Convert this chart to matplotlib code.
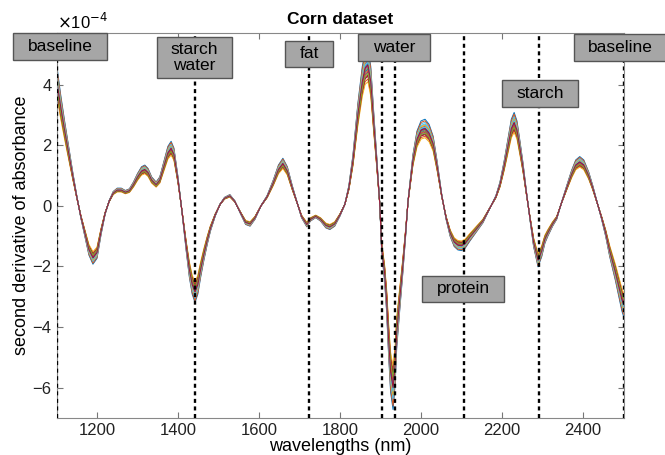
import numpy as np
import matplotlib
matplotlib.use('Agg')
import matplotlib.pyplot as plt
from matplotlib.patches import Rectangle

plt.rcParams['font.family'] = ['Liberation Sans', 'DejaVu Sans']

# mean second-derivative spectrum (x 1e-4)
wavelengths = [1100, 1110, 1120, 1130, 1140, 1150, 1160, 1170, 1180, 1190,
               1200, 1210, 1220, 1230, 1240, 1250, 1260, 1270, 1280, 1290,
               1300, 1310, 1318, 1326, 1335, 1346, 1355, 1365, 1375, 1383,
               1390, 1400, 1410, 1420, 1428, 1435, 1442, 1449, 1456, 1464,
               1472, 1480, 1492, 1504, 1515, 1528, 1540, 1555, 1567, 1578,
               1590, 1605, 1620, 1635, 1648, 1659, 1670, 1682, 1693, 1705,
               1718, 1727, 1740, 1752, 1765, 1775, 1787, 1800, 1812, 1822,
               1832, 1844, 1855, 1862, 1869, 1876, 1883, 1891, 1898, 1903,
               1910, 1915, 1920, 1925, 1931, 1936, 1940, 1948, 1955, 1962,
               1968, 1980, 1990, 2000, 2010, 2020, 2030, 2040, 2051, 2062,
               2072, 2082, 2091, 2100, 2109, 2120, 2135, 2153, 2171, 2185,
               2195, 2205, 2215, 2223, 2230, 2237, 2245, 2252, 2260, 2269,
               2278, 2289, 2298, 2306, 2313, 2325, 2335, 2347, 2360, 2372,
               2382, 2392, 2402, 2414, 2424, 2434, 2446, 2456, 2466, 2480,
               2496, 2500]
mean_spec = [4.2, 3.3, 2.5, 1.75, 1.0, 0.3, -0.35, -0.9, -1.45, -1.72,
             -1.55, -0.85, -0.25, 0.15, 0.42, 0.52, 0.52, 0.45, 0.5, 0.7,
             0.95, 1.15, 1.2, 1.1, 0.85, 0.7, 0.85, 1.3, 1.75, 1.9,
             1.7, 0.85, -0.2, -1.3, -2.1, -2.6, -2.85, -2.6, -2.1, -1.6,
             -1.15, -0.75, -0.3, 0.05, 0.25, 0.33, 0.15, -0.25, -0.55, -0.6,
             -0.4, 0.0, 0.3, 0.75, 1.2, 1.4, 1.15, 0.6, 0.15, -0.35,
             -0.62, -0.45, -0.35, -0.45, -0.65, -0.7, -0.6, -0.3, 0.05, 0.6,
             1.5, 3.0, 4.1, 4.55, 4.65, 4.1, 2.8, 1.4, 0.1, -1.4,
             -2.2, -3.1, -4.4, -5.5, -6.0, -5.3, -4.2, -3.0, -2.0, -0.9,
             0.15, 1.5, 2.2, 2.5, 2.55, 2.4, 2.05, 1.3, 0.35, -0.4,
             -0.9, -1.2, -1.3, -1.32, -1.25, -1.05, -0.8, -0.5, -0.05, 0.3,
             0.7, 1.3, 2.0, 2.55, 2.75, 2.5, 1.85, 1.25, 0.45, -0.4,
             -1.2, -1.8, -1.5, -1.1, -0.9, -0.6, -0.4, 0.1, 0.6, 1.05,
             1.35, 1.45, 1.35, 1.0, 0.6, 0.15, -0.4, -0.9, -1.5, -2.2,
             -3.1, -3.25]
# relative intensity of each sample spectrum
sample_scale = [1.12, 0.9, 1.05, 0.95, 1.0, 1.08, 0.93, 0.97, 1.1, 0.88, 1.03,
                0.98, 1.06, 0.92, 1.01, 0.96, 1.04, 0.99, 0.94, 1.02, 1.0]

band_lines = [1100, 1442, 1723, 1904, 1936, 2106, 2291, 2500]
# label, box in pixels (x0, y0, x1, y1) from top-left
band_boxes = [
    ('baseline', 13, 33, 107, 60),
    ('starch\nwater', 157, 37, 232, 78),
    ('fat', 285, 41, 333, 67),
    ('water', 358, 34, 430, 61),
    ('starch', 502, 80, 578, 107),
    ('baseline', 574, 34, 666, 61),
    ('protein', 422, 276, 504, 302),
]

matlab_colors = ['#0072BD', '#D95319', '#EDB120', '#7E2F8E', '#77AC30', '#4DBEEE', '#A2142F']

W, H = 665, 455
fig = plt.figure(figsize=(W / 100, H / 100), dpi=100)
ax = fig.add_axes([56.5 / W, 1 - 418 / H, (623.5 - 56.5) / W, (418 - 33) / H])

x = np.array(wavelengths)
m = np.array(mean_spec)
for i, s in enumerate(sample_scale):
    ax.plot(x, m * s, color=matlab_colors[i % 7], lw=0.7)

for wl in band_lines:
    ax.axvline(wl, color='black', lw=1.7, linestyle=(0, (1.7, 1.5)), zorder=5)

ax.set_xlim(1100, 2500)
ax.set_ylim(-7, 5.7)
ax.set_xticks([1200, 1400, 1600, 1800, 2000, 2200, 2400])
ax.set_yticks([-6, -4, -2, 0, 2, 4])
ax.tick_params(direction='in', top=True, right=True, length=4, labelsize=12,
               color='#777777', labelcolor='#222222')
for sp in ax.spines.values():
    sp.set_color('#888888')
    sp.set_linewidth(0.8)

ax.set_xlabel('wavelengths (nm)', fontsize=13, labelpad=0)
ax.set_ylabel('second derivative of absorbance', fontsize=13, labelpad=2)
fig.text(340 / W, 1 - 20 / H, 'Corn dataset', ha='center', va='center',
         fontsize=12.5, fontweight='bold')
fig.text(57 / W, 1 - 22 / H, r'$\times$10$^{-4}$', ha='left', va='center', fontsize=12)

for label, x0, y0, x1, y1 in band_boxes:
    rect = Rectangle((x0 / W, 1 - y1 / H), (x1 - x0) / W, (y1 - y0) / H,
                     transform=fig.transFigure, facecolor='#a6a6a6',
                     edgecolor='#555555', lw=1.0, zorder=10)
    fig.add_artist(rect)
    fig.text((x0 + x1) / 2 / W, 1 - (y0 + y1) / 2 / H, label, ha='center',
             va='center', fontsize=12.5, zorder=11, linespacing=1.0)

fig.savefig('out.png', dpi=100)
